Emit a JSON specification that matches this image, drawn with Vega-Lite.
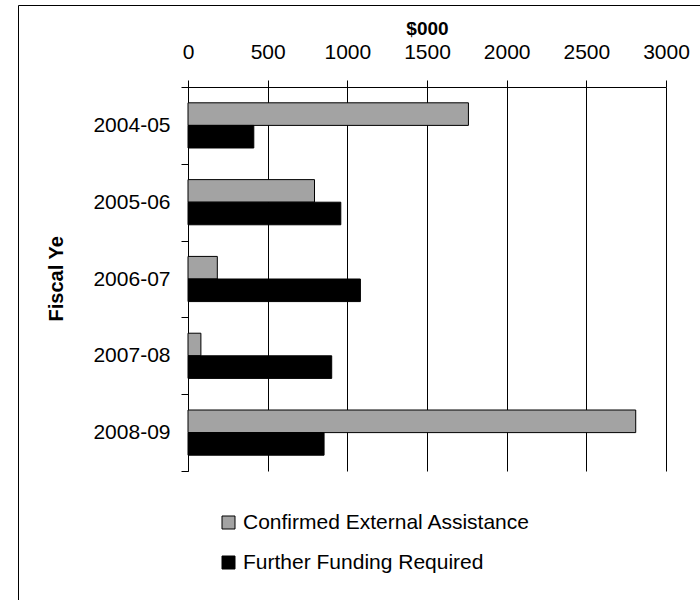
{
  "$schema": "https://vega.github.io/schema/vega-lite/v6.json",
  "width": 720,
  "height": 640,
  "autosize": {"type": "none"},
  "padding": {"left": 18, "top": 5, "right": 0, "bottom": 0},
  "background": "white",
  "config": {
    "font": "Liberation Sans",
    "view": {"stroke": "black", "strokeWidth": 1, "fill": "white"}
  },
  "data": {
    "values": [
      {"year": "2004-05", "series": "Confirmed External Assistance", "amount": 1760},
      {"year": "2004-05", "series": "Further Funding Required", "amount": 413},
      {"year": "2005-06", "series": "Confirmed External Assistance", "amount": 794},
      {"year": "2005-06", "series": "Further Funding Required", "amount": 959},
      {"year": "2006-07", "series": "Confirmed External Assistance", "amount": 184},
      {"year": "2006-07", "series": "Further Funding Required", "amount": 1082},
      {"year": "2007-08", "series": "Confirmed External Assistance", "amount": 81},
      {"year": "2007-08", "series": "Further Funding Required", "amount": 902},
      {"year": "2008-09", "series": "Confirmed External Assistance", "amount": 2810},
      {"year": "2008-09", "series": "Further Funding Required", "amount": 854}
    ]
  },
  "mark": {"type": "bar", "stroke": "black", "strokeWidth": 1},
  "encoding": {
    "y": {
      "field": "year",
      "type": "nominal",
      "sort": ["2004-05", "2005-06", "2006-07", "2007-08", "2008-09"],
      "scale": {"range": [82, 466], "paddingInner": 0, "paddingOuter": 0},
      "axis": {
        "orient": "left",
        "offset": -170,
        "title": "Fiscal Ye",
        "tickBand": "extent",
        "tickSize": 7,
        "tickColor": "black",
        "domainColor": "black",
        "grid": false,
        "labelFontSize": 21,
        "labelColor": "black",
        "labelPadding": 11,
        "titleFontSize": 20,
        "titleFontWeight": "bold",
        "titleColor": "black",
        "titleAngle": 270,
        "titleX": -126,
        "titleY": 316,
        "titleAlign": "left",
        "titleBaseline": "alphabetic"
      }
    },
    "yOffset": {
      "field": "series",
      "type": "nominal",
      "sort": ["Confirmed External Assistance", "Further Funding Required"],
      "scale": {"paddingInner": 0, "paddingOuter": 0.7}
    },
    "x": {
      "field": "amount",
      "type": "quantitative",
      "scale": {"domain": [0, 3000], "range": [170, 648], "nice": false},
      "axis": {
        "orient": "top",
        "offset": -82,
        "title": "$000",
        "format": "d",
        "values": [0, 500, 1000, 1500, 2000, 2500, 3000],
        "tickSize": 7,
        "tickColor": "black",
        "domainColor": "black",
        "grid": true,
        "gridColor": "black",
        "gridOpacity": 1,
        "labelFontSize": 21,
        "labelColor": "black",
        "labelPadding": 18,
        "labelFlush": false,
        "labelOverlap": false,
        "titleFontSize": 19,
        "titleFontWeight": "bold",
        "titleColor": "black",
        "titleY": -53,
        "titleBaseline": "alphabetic"
      }
    },
    "color": {
      "field": "series",
      "type": "nominal",
      "scale": {
        "domain": ["Confirmed External Assistance", "Further Funding Required"],
        "range": ["#a3a3a3", "#000000"]
      },
      "legend": {
        "orient": "none",
        "legendX": 200,
        "legendY": 507,
        "title": null,
        "direction": "vertical",
        "symbolType": "square",
        "symbolSize": 169,
        "symbolStrokeColor": "black",
        "symbolStrokeWidth": 1,
        "labelFontSize": 21,
        "labelColor": "black",
        "labelOffset": 4,
        "labelLimit": 500,
        "rowPadding": 18,
        "padding": 0
      }
    }
  }
}
